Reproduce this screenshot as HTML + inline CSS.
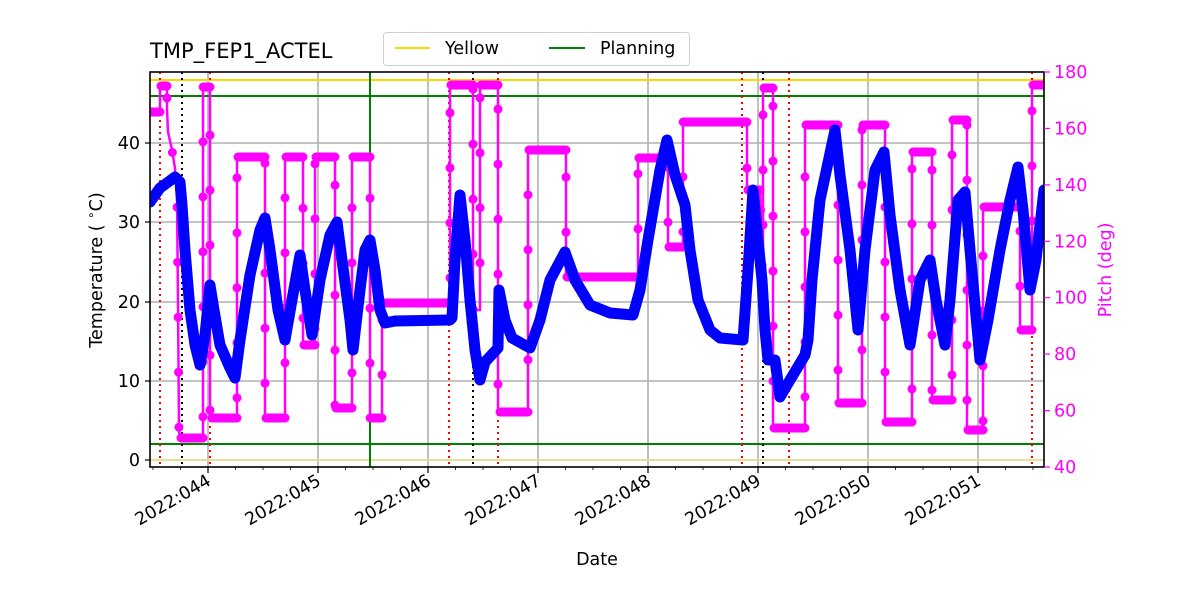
<!DOCTYPE html>
<html><head><meta charset="utf-8"><style>
html,body{margin:0;padding:0;background:#fff;}
svg{display:block;font-family:"DejaVu Sans","Liberation Sans",sans-serif;}
</style></head><body>
<svg width="1200" height="600" viewBox="0 0 1200 600" xmlns="http://www.w3.org/2000/svg">
<defs>
<clipPath id="c"><rect x="150" y="72" width="894" height="395"/></clipPath>
</defs>
<g stroke="#b0b0b0" stroke-width="1.6">
<line x1="208" y1="72" x2="208" y2="467"/><line x1="318" y1="72" x2="318" y2="467"/><line x1="428" y1="72" x2="428" y2="467"/><line x1="538" y1="72" x2="538" y2="467"/><line x1="648" y1="72" x2="648" y2="467"/><line x1="758" y1="72" x2="758" y2="467"/><line x1="868" y1="72" x2="868" y2="467"/><line x1="978" y1="72" x2="978" y2="467"/>
<line x1="150" y1="460" x2="1044" y2="460"/><line x1="150" y1="381" x2="1044" y2="381"/><line x1="150" y1="302" x2="1044" y2="302"/><line x1="150" y1="222" x2="1044" y2="222"/><line x1="150" y1="143" x2="1044" y2="143"/>
</g>
<g clip-path="url(#c)">
<line x1="150" y1="80" x2="1044" y2="80" stroke="#ffd700" stroke-width="2"/>
<line x1="150" y1="460" x2="1044" y2="460" stroke="#f0e080" stroke-width="1.5"/>
<line x1="150" y1="96" x2="1044" y2="96" stroke="#008000" stroke-width="2"/>
<line x1="150" y1="444" x2="1044" y2="444" stroke="#008000" stroke-width="2"/>
<line x1="370" y1="72" x2="370" y2="467" stroke="#008000" stroke-width="2"/>
<g stroke="#ff0000" stroke-width="2" stroke-dasharray="2,4">
<line x1="160" y1="72" x2="160" y2="467"/><line x1="210" y1="72" x2="210" y2="467"/><line x1="449" y1="72" x2="449" y2="467"/><line x1="498" y1="72" x2="498" y2="467"/><line x1="742" y1="72" x2="742" y2="467"/><line x1="789" y1="72" x2="789" y2="467"/><line x1="1032" y1="72" x2="1032" y2="467"/>
</g>
<g stroke="#000" stroke-width="2" stroke-dasharray="2,4">
<line x1="182" y1="72" x2="182" y2="467"/><line x1="473" y1="72" x2="473" y2="467"/><line x1="763" y1="72" x2="763" y2="467"/>
</g>
<g fill="none" stroke="#ff00ff">
<polyline stroke-width="2.5" points="150,112 160,112 160,86 167,86 167,109 168,132 172,150 175,168 177,200 178,300 179,430 180,438 203,438 203,300 203,87 210,87 210,418 237,418 237,157 265,157 265,418 285,418 285,157 303,157 303,345 315,345 315,157 335,157 335,408 352,408 352,157 370,157 370,418 382,418 382,303 450,303 450,85 473,85 473,310 480,310 480,85 498,85 498,412 528,412 528,150 566,150 566,277 638,277 638,158 668,158 668,247 683,247 683,122 747,122 747,190 760,190 763,300 763,88 773,88 773,428 805,428 805,125 838,125 838,403 862,403 862,125 885,125 885,422 912,422 912,152 932,152 932,400 952,400 952,120 967,120 967,430 983,430 983,207 1020,207 1020,330 1032,330 1032,85 1044,85"/>
<polyline stroke-width="9" stroke-linecap="round" stroke-dasharray="0,55" points="150,112 160,112 160,86 167,86 167,109 168,132 172,150 175,168 177,200 178,300 179,430 180,438 203,438 203,300 203,87 210,87 210,418 237,418 237,157 265,157 265,418 285,418 285,157 303,157 303,345 315,345 315,157 335,157 335,408 352,408 352,157 370,157 370,418 382,418 382,303 450,303 450,85 473,85 473,310 480,310 480,85 498,85 498,412 528,412 528,150 566,150 566,277 638,277 638,158 668,158 668,247 683,247 683,122 747,122 747,190 760,190 763,300 763,88 773,88 773,428 805,428 805,125 838,125 838,403 862,403 862,125 885,125 885,422 912,422 912,152 932,152 932,400 952,400 952,120 967,120 967,430 983,430 983,207 1020,207 1020,330 1032,330 1032,85 1044,85"/>
<path stroke-width="9" stroke-linecap="round" d="M152,112H160 M161,86H167 M181,438H203 M204,87H210 M212,418H237 M238,157H265 M266,418H285 M286,157H303 M304,345H315 M316,157H335 M336,408H352 M353,157H370 M371,418H382 M383,303H450 M451,85H473 M481,85H498 M500,412H528 M529,150H566 M567,277H638 M639,158H668 M669,247H683 M684,122H747 M748,190H760 M764,88H773 M774,428H805 M806,125H838 M839,403H862 M863,125H885 M886,422H912 M913,152H932 M933,400H952 M953,120H967 M968,430H983 M984,207H1020 M1021,330H1032 M1033,85H1044"/>
</g>
<polyline fill="none" stroke="#0000ff" stroke-width="11" stroke-linejoin="round" stroke-linecap="round" points="150,202 160,188 175,177 180,182 182,205 185,250 190,310 195,345 200,365 205,335 210,285 214,310 220,345 230,368 235,378 240,340 250,275 260,230 265,218 270,250 278,310 285,340 292,300 300,255 305,290 312,335 320,280 330,235 337,222 342,260 350,320 353,350 360,290 365,250 370,240 375,270 380,310 385,323 395,321 450,320 452,318 455,260 460,195 465,240 470,300 475,350 480,380 485,362 498,348 499,290 505,320 512,338 530,348 540,320 550,280 565,252 575,280 590,305 610,313 633,315 640,290 648,240 660,170 667,140 675,175 685,205 690,250 698,300 710,330 720,338 743,340 748,270 753,190 758,240 762,280 765,330 768,360 775,360 780,397 790,380 805,355 808,340 812,280 820,200 835,130 840,175 850,250 858,330 865,250 875,170 884,152 890,215 900,290 910,345 920,280 930,260 936,300 945,345 950,300 958,200 965,192 970,250 980,360 988,320 1000,250 1010,200 1018,167 1023,210 1030,290 1036,260 1044,190"/>
</g>
<rect x="150" y="72" width="894" height="395" fill="none" stroke="#000" stroke-width="1.6"/>
<g stroke="#000" stroke-width="1.2">
<line x1="208" y1="467" x2="208" y2="473"/><line x1="318" y1="467" x2="318" y2="473"/><line x1="428" y1="467" x2="428" y2="473"/><line x1="538" y1="467" x2="538" y2="473"/><line x1="648" y1="467" x2="648" y2="473"/><line x1="758" y1="467" x2="758" y2="473"/><line x1="868" y1="467" x2="868" y2="473"/><line x1="978" y1="467" x2="978" y2="473"/>
<line x1="150" y1="460" x2="145" y2="460"/><line x1="150" y1="381" x2="145" y2="381"/><line x1="150" y1="302" x2="145" y2="302"/><line x1="150" y1="222" x2="145" y2="222"/><line x1="150" y1="143" x2="145" y2="143"/>
</g>
<g stroke="#000" stroke-width="0.8">
<path d="M153,467v3M180.5,467v3M235.5,467v3M263,467v3M290.5,467v3M345.5,467v3M373,467v3M400.5,467v3M455.5,467v3M483,467v3M510.5,467v3M565.5,467v3M593,467v3M620.5,467v3M675.5,467v3M703,467v3M730.5,467v3M785.5,467v3M813,467v3M840.5,467v3M895.5,467v3M923,467v3M950.5,467v3M1005.5,467v3M1033,467v3"/>
</g>
<g stroke="#ff00ff" stroke-width="1.2">
<line x1="1044" y1="467" x2="1050" y2="467"/><line x1="1044" y1="410.6" x2="1050" y2="410.6"/><line x1="1044" y1="354.1" x2="1050" y2="354.1"/><line x1="1044" y1="297.7" x2="1050" y2="297.7"/><line x1="1044" y1="241.3" x2="1050" y2="241.3"/><line x1="1044" y1="184.9" x2="1050" y2="184.9"/><line x1="1044" y1="128.4" x2="1050" y2="128.4"/><line x1="1044" y1="72" x2="1050" y2="72"/>
</g>
<g font-size="17.5" fill="#000" text-anchor="end">
<text x="140" y="466">0</text><text x="140" y="387">10</text><text x="140" y="308">20</text><text x="140" y="228">30</text><text x="140" y="149">40</text>
</g>
<g font-size="17.5" fill="#ff00ff">
<text x="1054" y="473">40</text><text x="1054" y="416.6">60</text><text x="1054" y="360.1">80</text><text x="1054" y="303.7">100</text><text x="1054" y="247.3">120</text><text x="1054" y="190.9">140</text><text x="1054" y="134.4">160</text><text x="1054" y="78">180</text>
</g>
<g font-size="17.5" fill="#000" text-anchor="end">
<text transform="translate(212,484) rotate(-30)">2022:044</text>
<text transform="translate(322,484) rotate(-30)">2022:045</text>
<text transform="translate(432,484) rotate(-30)">2022:046</text>
<text transform="translate(542,484) rotate(-30)">2022:047</text>
<text transform="translate(652,484) rotate(-30)">2022:048</text>
<text transform="translate(762,484) rotate(-30)">2022:049</text>
<text transform="translate(872,484) rotate(-30)">2022:050</text>
<text transform="translate(982,484) rotate(-30)">2022:051</text>
</g>
<text x="597" y="565" font-size="17.5" text-anchor="middle">Date</text>
<text transform="translate(102,270) rotate(-90)" font-size="17.5" text-anchor="middle">Temperature ( <tspan font-size="12" dy="-7">∘</tspan><tspan dy="7">C)</tspan></text>
<text transform="translate(1111,270) rotate(-90)" font-size="17.5" text-anchor="middle" fill="#ff00ff">Pitch (deg)</text>
<text x="150" y="58" font-size="21">TMP_FEP1_ACTEL</text>
<rect x="383.5" y="32.5" width="306" height="33" rx="3" fill="#fff" stroke="#d0d0d0"/>
<line x1="395" y1="48" x2="430" y2="48" stroke="#ffd700" stroke-width="2"/>
<text x="445" y="54" font-size="17.5">Yellow</text>
<line x1="549" y1="48" x2="585" y2="48" stroke="#008000" stroke-width="2"/>
<text x="600" y="54" font-size="17.5">Planning</text>
</svg>
</body></html>
